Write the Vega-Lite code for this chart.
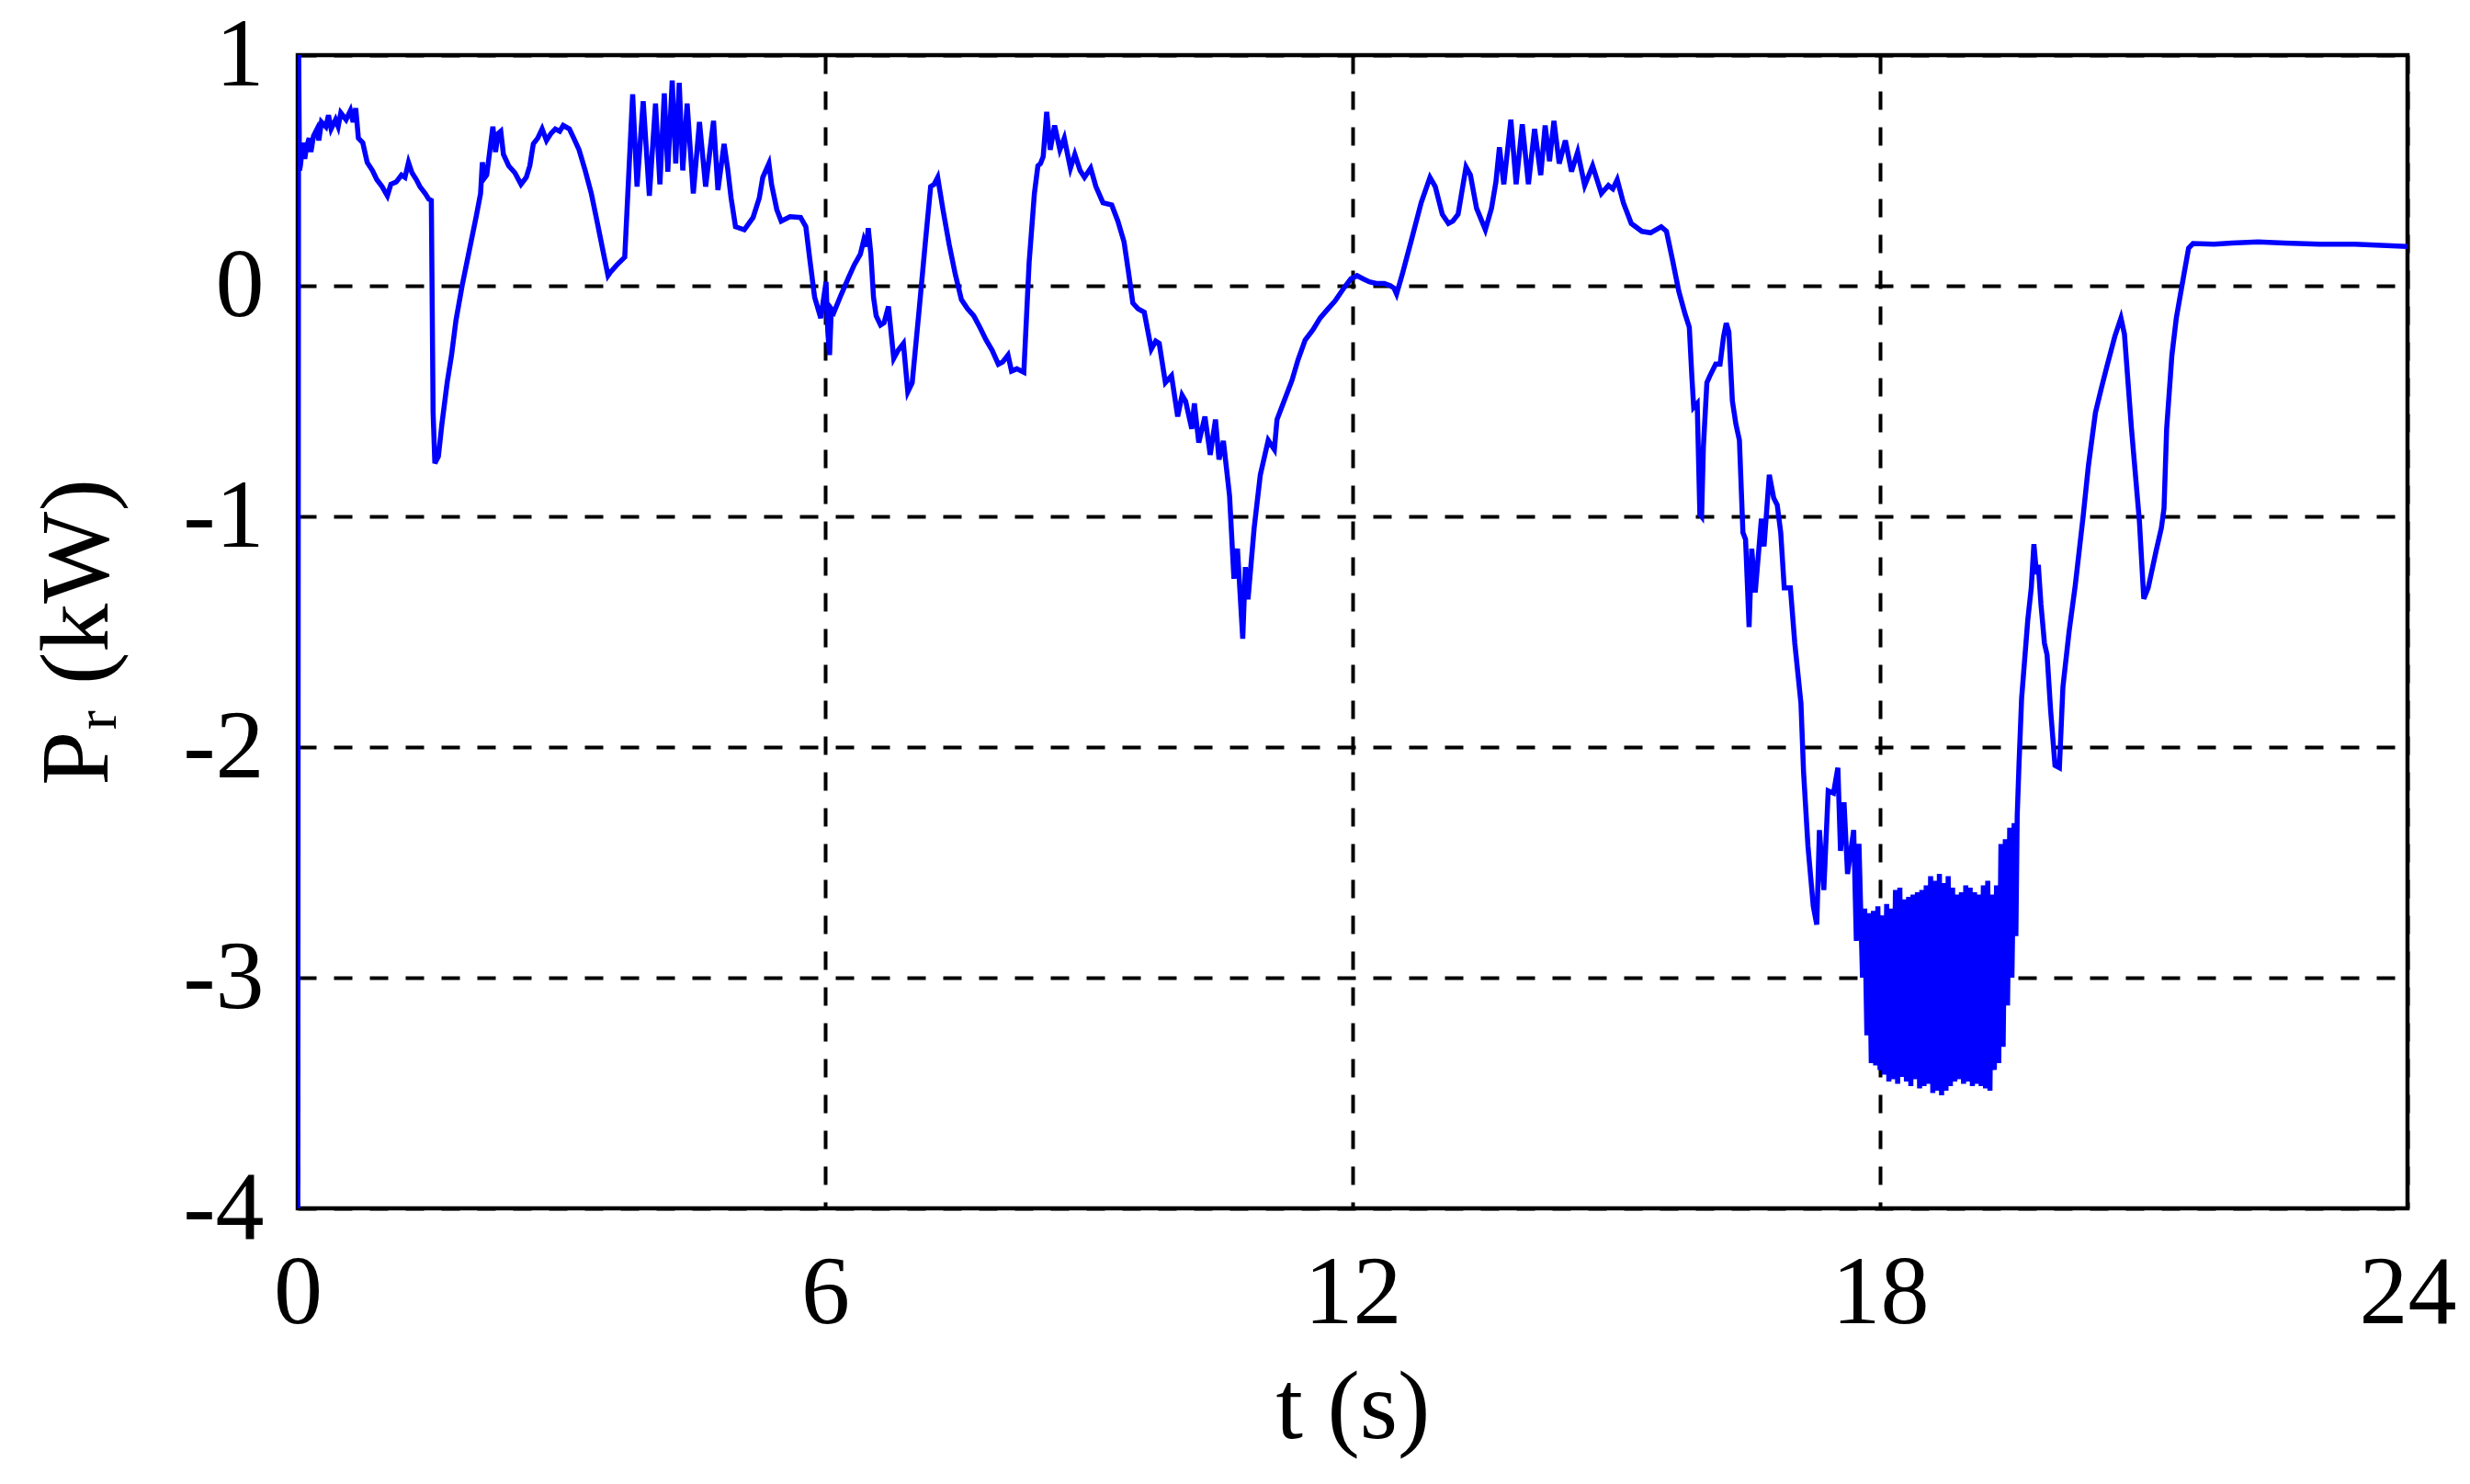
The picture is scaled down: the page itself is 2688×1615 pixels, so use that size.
{
 "$schema": "https://vega.github.io/schema/vega-lite/v6.json",
 "width": 2296,
 "height": 1255,
 "autosize": {"type": "none"},
 "padding": {"left": 324, "top": 60, "right": 68, "bottom": 300},
 "background": "white",
 "config": {"view": {"stroke": "black", "strokeWidth": 4.5}},
 "data": {"values": [
  {"t":0.000,"P":-4.3},{"t":0.010,"P":1.05},{"t":0.020,"P":0.50},{"t":0.03,"P":0.52},{"t":0.06,"P":0.62},{"t":0.08,"P":0.55},{"t":0.10,"P":0.60},{"t":0.13,"P":0.64},{"t":0.15,"P":0.58},{"t":0.18,"P":0.65},{"t":0.22,"P":0.68},{"t":0.24,"P":0.63},{"t":0.27,"P":0.71},{"t":0.32,"P":0.69},{"t":0.35,"P":0.74},{"t":0.38,"P":0.68},{"t":0.43,"P":0.72},{"t":0.46,"P":0.69},{"t":0.49,"P":0.75},{"t":0.55,"P":0.72},{"t":0.60,"P":0.76},{"t":0.63,"P":0.71},{"t":0.66,"P":0.77},{"t":0.69,"P":0.64},{"t":0.74,"P":0.62},{"t":0.79,"P":0.535},{"t":0.85,"P":0.50},{"t":0.90,"P":0.46},{"t":0.96,"P":0.43},{"t":1.02,"P":0.39},{"t":1.06,"P":0.44},{"t":1.12,"P":0.45},{"t":1.18,"P":0.48},{"t":1.22,"P":0.47},{"t":1.26,"P":0.535},{"t":1.30,"P":0.49},{"t":1.35,"P":0.46},{"t":1.39,"P":0.43},{"t":1.45,"P":0.40},{"t":1.49,"P":0.376},{"t":1.52,"P":0.37},{"t":1.54,"P":-0.55},{"t":1.56,"P":-0.77},{"t":1.60,"P":-0.74},{"t":1.64,"P":-0.60},{"t":1.70,"P":-0.42},{"t":1.75,"P":-0.30},{"t":1.80,"P":-0.15},{"t":1.87,"P":0.0},{"t":1.95,"P":0.15},{"t":2.03,"P":0.30},{"t":2.08,"P":0.40},{"t":2.10,"P":0.535},{"t":2.13,"P":0.47},{"t":2.15,"P":0.48},{"t":2.19,"P":0.60},{"t":2.22,"P":0.69},{"t":2.25,"P":0.58},{"t":2.28,"P":0.66},{"t":2.31,"P":0.67},{"t":2.34,"P":0.57},{"t":2.40,"P":0.52},{"t":2.47,"P":0.49},{"t":2.54,"P":0.44},{"t":2.60,"P":0.47},{"t":2.64,"P":0.52},{"t":2.68,"P":0.615},{"t":2.73,"P":0.64},{"t":2.78,"P":0.68},{"t":2.83,"P":0.63},{"t":2.88,"P":0.66},{"t":2.93,"P":0.68},{"t":2.98,"P":0.67},{"t":3.02,"P":0.695},{"t":3.09,"P":0.68},{"t":3.14,"P":0.64},{"t":3.20,"P":0.59},{"t":3.27,"P":0.50},{"t":3.34,"P":0.40},{"t":3.41,"P":0.27},{"t":3.48,"P":0.137},{"t":3.53,"P":0.044},{"t":3.56,"P":0.06},{"t":3.63,"P":0.09},{"t":3.72,"P":0.124},{"t":3.81,"P":0.83},{"t":3.86,"P":0.43},{"t":3.93,"P":0.80},{"t":4.00,"P":0.39},{"t":4.07,"P":0.79},{"t":4.12,"P":0.44},{"t":4.17,"P":0.834},{"t":4.21,"P":0.495},{"t":4.26,"P":0.89},{"t":4.30,"P":0.53},{"t":4.34,"P":0.88},{"t":4.38,"P":0.50},{"t":4.43,"P":0.79},{"t":4.50,"P":0.40},{"t":4.57,"P":0.71},{"t":4.64,"P":0.43},{"t":4.73,"P":0.715},{"t":4.78,"P":0.415},{"t":4.85,"P":0.615},{"t":4.89,"P":0.51},{"t":4.93,"P":0.38},{"t":4.98,"P":0.256},{"t":5.08,"P":0.243},{"t":5.18,"P":0.296},{"t":5.25,"P":0.38},{"t":5.29,"P":0.47},{"t":5.36,"P":0.53},{"t":5.39,"P":0.44},{"t":5.45,"P":0.33},{"t":5.50,"P":0.28},{"t":5.60,"P":0.30},{"t":5.72,"P":0.296},{"t":5.78,"P":0.256},{"t":5.83,"P":0.10},{"t":5.88,"P":-0.05},{"t":5.95,"P":-0.14},{"t":6.01,"P":0.017},{"t":6.03,"P":-0.20},{"t":6.05,"P":-0.30},{"t":6.07,"P":-0.10},{"t":6.10,"P":-0.115},{"t":6.18,"P":-0.04},{"t":6.26,"P":0.03},{"t":6.33,"P":0.09},{"t":6.40,"P":0.137},{"t":6.44,"P":0.20},{"t":6.47,"P":0.17},{"t":6.49,"P":0.25},{"t":6.52,"P":0.137},{"t":6.55,"P":-0.05},{"t":6.58,"P":-0.13},{"t":6.63,"P":-0.17},{"t":6.67,"P":-0.16},{"t":6.72,"P":-0.09},{"t":6.78,"P":-0.315},{"t":6.83,"P":-0.28},{"t":6.89,"P":-0.25},{"t":6.94,"P":-0.46},{"t":6.99,"P":-0.42},{"t":7.07,"P":-0.10},{"t":7.14,"P":0.19},{"t":7.20,"P":0.43},{"t":7.24,"P":0.44},{"t":7.28,"P":0.47},{"t":7.34,"P":0.33},{"t":7.41,"P":0.18},{"t":7.48,"P":0.05},{"t":7.55,"P":-0.06},{"t":7.62,"P":-0.10},{"t":7.69,"P":-0.13},{"t":7.76,"P":-0.18},{"t":7.83,"P":-0.235},{"t":7.90,"P":-0.28},{"t":7.97,"P":-0.34},{"t":8.02,"P":-0.33},{"t":8.08,"P":-0.30},{"t":8.12,"P":-0.37},{"t":8.18,"P":-0.36},{"t":8.26,"P":-0.375},{"t":8.32,"P":0.10},{"t":8.38,"P":0.40},{"t":8.42,"P":0.52},{"t":8.45,"P":0.53},{"t":8.48,"P":0.56},{"t":8.52,"P":0.754},{"t":8.56,"P":0.59},{"t":8.61,"P":0.695},{"t":8.67,"P":0.59},{"t":8.72,"P":0.64},{"t":8.79,"P":0.51},{"t":8.84,"P":0.57},{"t":8.90,"P":0.50},{"t":8.95,"P":0.47},{"t":9.02,"P":0.51},{"t":9.08,"P":0.43},{"t":9.16,"P":0.36},{"t":9.26,"P":0.35},{"t":9.33,"P":0.28},{"t":9.40,"P":0.19},{"t":9.45,"P":0.06},{"t":9.50,"P":-0.075},{"t":9.56,"P":-0.10},{"t":9.63,"P":-0.115},{"t":9.71,"P":-0.275},{"t":9.76,"P":-0.24},{"t":9.80,"P":-0.25},{"t":9.87,"P":-0.42},{"t":9.94,"P":-0.39},{"t":10.01,"P":-0.567},{"t":10.06,"P":-0.474},{"t":10.10,"P":-0.50},{"t":10.17,"P":-0.62},{"t":10.20,"P":-0.51},{"t":10.25,"P":-0.68},{"t":10.32,"P":-0.567},{"t":10.38,"P":-0.733},{"t":10.44,"P":-0.58},{"t":10.48,"P":-0.753},{"t":10.53,"P":-0.673},{"t":10.60,"P":-0.91},{"t":10.65,"P":-1.27},{"t":10.69,"P":-1.14},{"t":10.75,"P":-1.53},{"t":10.78,"P":-1.22},{"t":10.81,"P":-1.36},{"t":10.88,"P":-1.05},{"t":10.95,"P":-0.82},{"t":11.04,"P":-0.67},{"t":11.11,"P":-0.71},{"t":11.14,"P":-0.58},{"t":11.22,"P":-0.50},{"t":11.31,"P":-0.41},{"t":11.38,"P":-0.32},{"t":11.46,"P":-0.235},{"t":11.55,"P":-0.19},{"t":11.63,"P":-0.14},{"t":11.72,"P":-0.10},{"t":11.80,"P":-0.066},{"t":11.90,"P":-0.01},{"t":11.98,"P":0.03},{"t":12.05,"P":0.044},{"t":12.12,"P":0.03},{"t":12.19,"P":0.017},{"t":12.27,"P":0.01},{"t":12.36,"P":0.01},{"t":12.43,"P":0.0},{"t":12.47,"P":-0.01},{"t":12.50,"P":-0.036},{"t":12.57,"P":0.057},{"t":12.67,"P":0.20},{"t":12.78,"P":0.36},{"t":12.88,"P":0.47},{"t":12.94,"P":0.43},{"t":13.02,"P":0.31},{"t":13.09,"P":0.27},{"t":13.14,"P":0.28},{"t":13.20,"P":0.31},{"t":13.29,"P":0.515},{"t":13.34,"P":0.48},{"t":13.41,"P":0.336},{"t":13.51,"P":0.243},{"t":13.58,"P":0.336},{"t":13.63,"P":0.45},{"t":13.67,"P":0.60},{"t":13.72,"P":0.44},{"t":13.80,"P":0.72},{"t":13.86,"P":0.44},{"t":13.93,"P":0.70},{"t":14.00,"P":0.44},{"t":14.07,"P":0.68},{"t":14.14,"P":0.48},{"t":14.19,"P":0.695},{"t":14.24,"P":0.54},{"t":14.29,"P":0.715},{"t":14.35,"P":0.53},{"t":14.42,"P":0.63},{"t":14.49,"P":0.495},{"t":14.56,"P":0.58},{"t":14.64,"P":0.435},{"t":14.73,"P":0.52},{"t":14.83,"P":0.40},{"t":14.91,"P":0.435},{"t":14.96,"P":0.42},{"t":15.01,"P":0.46},{"t":15.08,"P":0.36},{"t":15.17,"P":0.27},{"t":15.29,"P":0.236},{"t":15.39,"P":0.23},{"t":15.51,"P":0.256},{"t":15.57,"P":0.236},{"t":15.64,"P":0.11},{"t":15.71,"P":-0.023},{"t":15.78,"P":-0.12},{"t":15.83,"P":-0.18},{"t":15.86,"P":-0.40},{"t":15.88,"P":-0.527},{"t":15.92,"P":-0.51},{"t":15.95,"P":-0.99},{"t":15.97,"P":-1.0},{"t":15.99,"P":-0.70},{"t":16.03,"P":-0.42},{"t":16.06,"P":-0.394},{"t":16.13,"P":-0.34},{"t":16.18,"P":-0.34},{"t":16.22,"P":-0.22},{"t":16.25,"P":-0.162},{"t":16.28,"P":-0.20},{"t":16.32,"P":-0.50},{"t":16.36,"P":-0.60},{"t":16.40,"P":-0.67},{"t":16.44,"P":-1.07},{"t":16.47,"P":-1.10},{"t":16.51,"P":-1.48},{"t":16.54,"P":-1.14},{"t":16.58,"P":-1.33},{"t":16.65,"P":-1.01},{"t":16.68,"P":-1.13},{"t":16.74,"P":-0.82},{"t":16.79,"P":-0.92},{"t":16.83,"P":-0.95},{"t":16.87,"P":-1.07},{"t":16.91,"P":-1.31},{"t":16.98,"P":-1.31},{"t":17.03,"P":-1.55},{"t":17.10,"P":-1.81},{"t":17.13,"P":-2.11},{"t":17.18,"P":-2.43},{"t":17.24,"P":-2.69},{"t":17.28,"P":-2.77},{"t":17.31,"P":-2.36},{"t":17.36,"P":-2.62},{"t":17.41,"P":-2.19},{"t":17.47,"P":-2.20},{"t":17.52,"P":-2.09},{"t":17.55,"P":-2.45},{"t":17.59,"P":-2.24},{"t":17.63,"P":-2.55},{"t":17.70,"P":-2.36},{"t":17.73,"P":-2.84},{"t":17.76,"P":-2.42},
  {"t":17.800,"P":-3.00},{"t":17.825,"P":-2.70},{"t":17.850,"P":-3.25},{"t":17.875,"P":-2.72},{"t":17.900,"P":-3.37},{"t":17.925,"P":-2.71},{"t":17.950,"P":-3.38},{"t":17.975,"P":-2.69},{"t":18.000,"P":-3.40},{"t":18.025,"P":-2.73},{"t":18.050,"P":-3.42},{"t":18.075,"P":-2.68},{"t":18.100,"P":-3.45},{"t":18.125,"P":-2.70},{"t":18.150,"P":-3.44},{"t":18.175,"P":-2.62},{"t":18.200,"P":-3.46},{"t":18.225,"P":-2.61},{"t":18.250,"P":-3.43},{"t":18.275,"P":-2.66},{"t":18.300,"P":-3.45},{"t":18.325,"P":-2.65},{"t":18.350,"P":-3.47},{"t":18.375,"P":-2.64},{"t":18.400,"P":-3.44},{"t":18.425,"P":-2.63},{"t":18.450,"P":-3.48},{"t":18.475,"P":-2.62},{"t":18.500,"P":-3.47},{"t":18.525,"P":-2.60},{"t":18.550,"P":-3.46},{"t":18.575,"P":-2.56},{"t":18.600,"P":-3.50},{"t":18.625,"P":-2.58},{"t":18.650,"P":-3.49},{"t":18.675,"P":-2.55},{"t":18.700,"P":-3.51},{"t":18.725,"P":-2.59},{"t":18.750,"P":-3.49},{"t":18.775,"P":-2.56},{"t":18.800,"P":-3.47},{"t":18.825,"P":-2.61},{"t":18.850,"P":-3.45},{"t":18.875,"P":-2.64},{"t":18.900,"P":-3.44},{"t":18.925,"P":-2.63},{"t":18.950,"P":-3.46},{"t":18.975,"P":-2.60},{"t":19.000,"P":-3.45},{"t":19.025,"P":-2.61},{"t":19.050,"P":-3.47},{"t":19.075,"P":-2.63},{"t":19.100,"P":-3.46},{"t":19.125,"P":-2.64},{"t":19.150,"P":-3.47},{"t":19.175,"P":-2.60},{"t":19.200,"P":-3.48},{"t":19.225,"P":-2.58},{"t":19.250,"P":-3.49},{"t":19.275,"P":-2.64},{"t":19.300,"P":-3.40},{"t":19.325,"P":-2.60},{"t":19.350,"P":-3.37},{"t":19.375,"P":-2.42},{"t":19.400,"P":-3.30},{"t":19.425,"P":-2.40},{"t":19.450,"P":-3.12},{"t":19.475,"P":-2.35},{"t":19.500,"P":-3.00},{"t":19.525,"P":-2.33},{"t":19.545,"P":-2.82},
  {"t":19.56,"P":-2.30},{"t":19.58,"P":-2.08},{"t":19.61,"P":-1.79},{"t":19.68,"P":-1.45},{"t":19.72,"P":-1.31},{"t":19.75,"P":-1.12},{"t":19.78,"P":-1.25},{"t":19.80,"P":-1.21},{"t":19.83,"P":-1.38},{"t":19.87,"P":-1.55},{"t":19.90,"P":-1.60},{"t":19.94,"P":-1.84},{"t":19.99,"P":-2.08},{"t":20.04,"P":-2.09},{"t":20.08,"P":-1.74},{"t":20.15,"P":-1.50},{"t":20.22,"P":-1.30},{"t":20.31,"P":-1.0},{"t":20.37,"P":-0.78},{"t":20.45,"P":-0.55},{"t":20.52,"P":-0.44},{"t":20.58,"P":-0.35},{"t":20.67,"P":-0.22},{"t":20.74,"P":-0.14},{"t":20.78,"P":-0.21},{"t":20.86,"P":-0.62},{"t":20.95,"P":-1.02},{"t":21.00,"P":-1.357},{"t":21.05,"P":-1.31},{"t":21.14,"P":-1.15},{"t":21.20,"P":-1.05},{"t":21.23,"P":-0.965},{"t":21.26,"P":-0.62},{"t":21.32,"P":-0.30},{"t":21.37,"P":-0.14},{"t":21.46,"P":0.057},{"t":21.51,"P":0.163},{"t":21.56,"P":0.183},{"t":21.8,"P":0.18},{"t":22.0,"P":0.185},{"t":22.3,"P":0.19},{"t":22.6,"P":0.185},{"t":23.0,"P":0.18},{"t":23.4,"P":0.18},{"t":23.7,"P":0.175},{"t":24.0,"P":0.17}
 ]},
 "mark": {"type": "line", "color": "#0000ff", "strokeWidth": 5.5, "clip": true},
 "encoding": {
  "x": {"field": "t", "type": "quantitative", "scale": {"domain": [0, 24], "nice": false, "zero": false},
   "axis": {"values": [0, 6, 12, 18, 24], "title": "t (s)", "grid": true, "gridColor": "black", "gridOpacity": 1, "gridDash": [20, 19], "gridWidth": 4, "domain": false, "ticks": false, "labelFont": "Liberation Serif", "labelFontSize": 106, "labelColor": "black", "labelPadding": 40, "labelFlush": false, "titleFont": "Liberation Serif", "titleFontSize": 106, "titleFontWeight": "normal", "titleColor": "black", "titlePadding": 20}},
  "y": {"field": "P", "type": "quantitative", "scale": {"domain": [-4, 1], "nice": false, "zero": false},
   "axis": {"values": [1, 0, -1, -2, -3, -4], "labelExpr": "'' + datum.value", "title": "Pᵣ (kW)", "grid": true, "gridColor": "black", "gridOpacity": 1, "gridDash": [20, 19], "gridWidth": 4, "domain": false, "ticks": false, "labelFont": "Liberation Serif", "labelFontSize": 106, "labelColor": "black", "labelPadding": 37, "labelFlush": false, "labelOverlap": false, "titleFont": "Liberation Serif", "titleFontSize": 106, "titleFontWeight": "normal", "titleColor": "black", "titlePadding": 60}}
 }
}
